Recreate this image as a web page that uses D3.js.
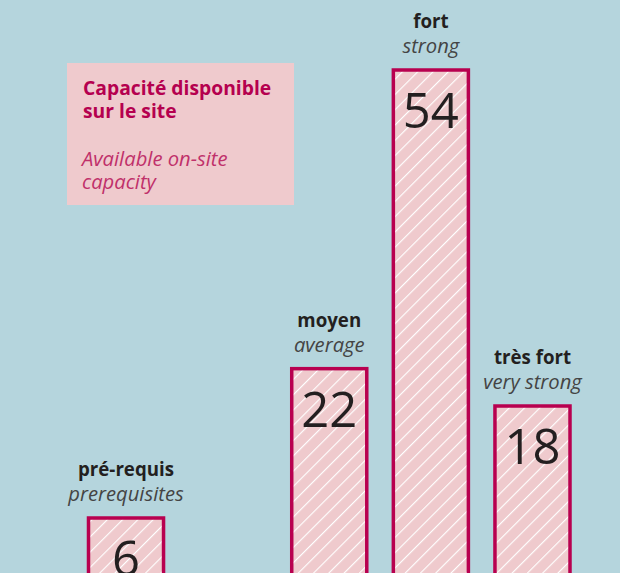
<!DOCTYPE html>
<html>
<head>
<meta charset="utf-8">
<script src="https://cdn.jsdelivr.net/npm/d3@7"></script>
<style>
  html, body { margin: 0; padding: 0; background: #b5d5dd; }
  svg { display: block; }
</style>
</head>
<body>
<div id="chart"></div>
<script>
// categories (an empty slot sits between the first and second bar)
var slots = ['pre', 'gap', 'moyen', 'fort', 'tresfort'];
var categories = ['pre', 'moyen', 'fort', 'tresfort'];
var labelsFr = ['pré-requis', 'moyen', 'fort', 'très fort'];
var labelsEn = ['prerequisites', 'average', 'strong', 'very strong'];
var values = [6, 22, 54, 18];
var legendFr = ['Capacité disponible', 'sur le site'];
var legendEn = ['Available on-site', 'capacity'];

var width = 620;
var height = 573;
var font = '"Open Sans", "Noto Sans", sans-serif';

var svg = d3.select('#chart')
  .append('svg')
  .attr('width', width)
  .attr('height', height);

svg.append('rect')
  .attr('width', width)
  .attr('height', height)
  .attr('fill', '#b5d5dd');

// hatch pattern
var defs = svg.append('defs');
var pat = defs.append('pattern')
  .attr('id', 'hatch')
  .attr('patternUnits', 'userSpaceOnUse')
  .attr('width', 10.8)
  .attr('height', 10.8)
  .attr('patternTransform', 'rotate(45)');
pat.append('rect')
  .attr('width', 10.8)
  .attr('height', 10.8)
  .attr('fill', '#efcacd');
pat.append('line')
  .attr('x1', 0).attr('y1', 0)
  .attr('x2', 0).attr('y2', 10.8)
  .attr('stroke', '#ffffff')
  .attr('stroke-width', 2.3);

var x = d3.scaleBand()
  .domain(slots)
  .range([87, 571.5])
  .paddingInner(0.232)
  .paddingOuter(0);

var y = d3.scaleLinear()
  .domain([0, 54])
  .range([574, 70]);

var bars = svg.append('g').selectAll('g')
  .data(categories)
  .enter()
  .append('g');

bars.append('rect')
  .attr('x', function(d) { return x(d) + 1.5; })
  .attr('y', function(d, i) { return y(values[i]); })
  .attr('width', x.bandwidth() - 3)
  .attr('height', function(d, i) { return y(0) - y(values[i]) + 10; })
  .attr('fill', 'url(#hatch)')
  .attr('stroke', '#b8004f')
  .attr('stroke-width', 3.5);

bars.append('text')
  .attr('x', function(d) { return x(d) + x.bandwidth() / 2; })
  .attr('y', function(d, i) { return y(values[i]) + 58; })
  .attr('text-anchor', 'middle')
  .attr('font-family', font)
  .attr('font-size', 49)
  .attr('font-weight', 500)
  .attr('fill', '#231f20')
  .text(function(d, i) { return values[i]; });

bars.append('text')
  .attr('x', function(d) { return x(d) + x.bandwidth() / 2; })
  .attr('y', function(d, i) { return y(values[i]) - 42; })
  .attr('text-anchor', 'middle')
  .attr('font-family', font)
  .attr('font-size', 18.7)
  .attr('font-weight', 'bold')
  .attr('fill', '#231f20')
  .text(function(d, i) { return labelsFr[i]; });

bars.append('text')
  .attr('x', function(d) { return x(d) + x.bandwidth() / 2; })
  .attr('y', function(d, i) { return y(values[i]) - 17; })
  .attr('text-anchor', 'middle')
  .attr('font-family', font)
  .attr('font-size', 20.2)
  .attr('font-style', 'italic')
  .attr('font-weight', 'normal')
  .attr('fill', '#444444')
  .text(function(d, i) { return labelsEn[i]; });

// legend box
var legend = svg.append('g');
legend.append('rect')
  .attr('x', 67)
  .attr('y', 63)
  .attr('width', 227)
  .attr('height', 142)
  .attr('fill', '#efcacd');

legend.selectAll('text.fr')
  .data(legendFr)
  .enter()
  .append('text')
  .attr('class', 'fr')
  .attr('x', 83)
  .attr('y', function(d, i) { return 94.5 + i * 23; })
  .attr('font-family', font)
  .attr('font-size', 19.3)
  .attr('font-weight', 'bold')
  .attr('fill', '#b5004f')
  .text(function(d) { return d; });

legend.selectAll('text.en')
  .data(legendEn)
  .enter()
  .append('text')
  .attr('class', 'en')
  .attr('x', 82)
  .attr('y', function(d, i) { return 166 + i * 22.5; })
  .attr('font-family', font)
  .attr('font-size', 20.2)
  .attr('font-style', 'italic')
  .attr('font-weight', 'normal')
  .attr('fill', '#c0306a')
  .text(function(d) { return d; });
</script>
</body>
</html>
